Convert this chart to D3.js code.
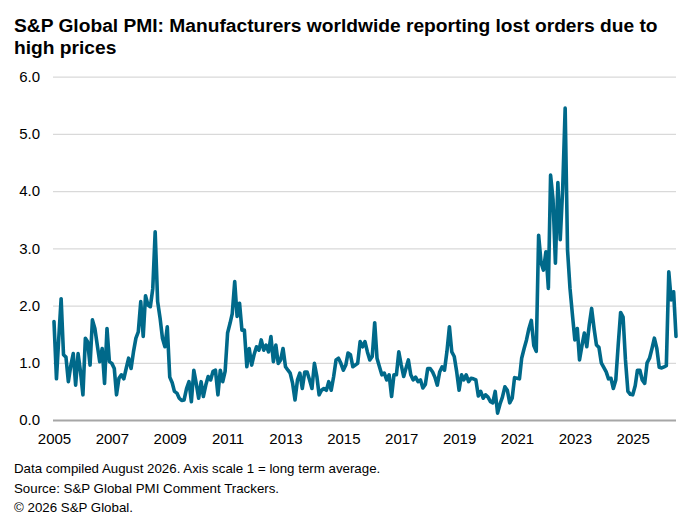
<!DOCTYPE html>
<html>
<head>
<meta charset="utf-8">
<script src="https://cdn.jsdelivr.net/npm/d3@7"></script>
<style>
  body { margin: 0; background: #fff; }
  svg text { font-family: "Liberation Sans", Arial, sans-serif; fill: #000; }
</style>
</head>
<body>
<script>
// chart size
const c_width = 700;
const c_height = 520;

// monthly readings, Jan 2005 .. Jul 2026 (1 = long term average)
const startYear = 2005;
const values = [
  // 2005
  1.72, 0.72, 1.40, 2.12, 1.14, 1.10, 0.67, 0.95, 1.16, 0.61, 1.16, 0.85,
  // 2006
  0.44, 1.43, 1.37, 0.96, 1.75, 1.60, 1.31, 1.02, 1.25, 0.64, 1.60, 1.02,
  // 2007
  0.99, 0.90, 0.44, 0.73, 0.79, 0.72, 0.90, 1.08, 0.90, 1.19, 1.43, 1.54,
  // 2008
  2.07, 1.46, 2.17, 2.01, 1.98, 2.30, 3.29, 2.07, 1.78, 1.43, 1.28, 1.63,
  // 2009
  0.75, 0.65, 0.50, 0.47, 0.38, 0.34, 0.35, 0.55, 0.67, 0.32, 0.87, 0.64,
  // 2010
  0.38, 0.67, 0.41, 0.61, 0.76, 0.70, 0.85, 0.87, 0.44, 0.87, 0.67, 0.85,
  // 2011
  1.52, 1.69, 1.86, 2.42, 1.81, 2.04, 1.57, 1.57, 0.93, 1.25, 0.96, 1.14,
  // 2012
  1.28, 1.22, 1.40, 1.22, 1.31, 1.19, 1.46, 1.02, 1.31, 0.99, 1.05, 1.25,
  // 2013
  0.93, 0.87, 0.82, 0.64, 0.35, 0.70, 0.82, 0.55, 0.84, 0.84, 0.70, 0.55,
  // 2014
  0.99, 0.76, 0.44, 0.52, 0.55, 0.52, 0.67, 0.52, 0.76, 1.05, 1.08, 0.99,
  // 2015
  0.87, 0.96, 1.17, 1.14, 0.93, 0.96, 0.99, 1.37, 1.28, 1.37, 1.19, 1.05,
  // 2016
  1.11, 1.70, 1.08, 0.93, 0.79, 0.82, 0.70, 0.79, 0.41, 0.79, 0.79, 1.19,
  // 2017
  0.96, 0.76, 0.90, 1.05, 0.79, 0.70, 0.75, 0.67, 0.70, 0.56, 0.62, 0.90,
  // 2018
  0.90, 0.84, 0.75, 0.61, 0.84, 0.93, 0.87, 1.20, 1.63, 1.19, 1.11, 0.85,
  // 2019
  0.52, 0.79, 0.70, 0.79, 0.67, 0.73, 0.72, 0.70, 0.42, 0.50, 0.38, 0.44,
  // 2020
  0.40, 0.32, 0.30, 0.50, 0.12, 0.28, 0.40, 0.58, 0.52, 0.30, 0.38, 0.74,
  // 2021
  0.73, 0.72, 1.08, 1.25, 1.40, 1.60, 1.74, 1.30, 1.20, 3.23, 2.75, 2.62,
  // 2022
  2.94, 2.30, 4.28, 3.85, 2.74, 4.15, 3.15, 4.05, 5.45, 2.97, 2.30, 1.85,
  // 2023
  1.40, 1.60, 1.05, 1.30, 1.52, 1.28, 1.65, 1.95, 1.60, 1.31, 1.27, 1.00,
  // 2024
  0.92, 0.84, 0.72, 0.73, 0.55, 0.70, 1.30, 1.88, 1.80, 1.05, 0.50, 0.45,
  // 2025
  0.44, 0.60, 0.87, 0.87, 0.70, 0.64, 1.00, 1.08, 1.25, 1.43, 1.25, 0.92,
  // 2026
  0.91, 0.93, 0.95, 2.59, 2.10, 2.24, 1.46
];

const yTicks = [0, 1, 2, 3, 4, 5, 6];
const xTickYears = [2005, 2007, 2009, 2011, 2013, 2015, 2017, 2019, 2021, 2023, 2025];

const titleLines = [
  'S&P Global PMI: Manufacturers worldwide reporting lost orders due to',
  'high prices'
];
const footLines = [
  'Data compiled August 2026. Axis scale 1 = long term average.',
  'Source: S&P Global PMI Comment Trackers.',
  '\u00A9 2026 S&P Global.'
];

// month index -> date
const data = values.map((v, i) => ({ date: new Date(startYear, i, 1), value: v }));

const plot = { left: 53, right: 676, top: 76.7, bottom: 420 };

const svgContainer = d3.select('body')
  .append('svg')
  .attr('width', c_width)
  .attr('height', c_height);

const x = d3.scaleTime()
  .domain([data[0].date, data[data.length - 1].date])
  .range([54, plot.right]);

const y = d3.scaleLinear()
  .domain([0, 6])
  .range([plot.bottom, plot.top]);

// title
svgContainer.append('g')
  .selectAll('text')
  .data(titleLines)
  .enter()
  .append('text')
  .attr('x', 14)
  .attr('y', (d, i) => 32 + i * 22)
  .style('font-size', '19.2px')
  .style('font-weight', 'bold')
  .text(d => d);

// y axis + gridlines
const yAxis = d3.axisLeft(y)
  .tickValues(yTicks)
  .tickSize(-(plot.right - plot.left))
  .tickPadding(13)
  .tickFormat(d3.format('.1f'));

const gy = svgContainer.append('g')
  .attr('transform', 'translate(' + plot.left + ',0)')
  .call(yAxis);

gy.select('.domain').remove();
gy.selectAll('.tick line')
  .attr('stroke', d => d === 0 ? '#a6a6a6' : '#d9d9d9')
  .attr('stroke-width', d => d === 0 ? 2 : 1.2);
gy.selectAll('.tick text')
  .style('font-size', '15px')
  .attr('fill', '#000');

// x axis
const xAxis = d3.axisBottom(x)
  .tickValues(xTickYears.map(yr => new Date(yr, 0, 1)))
  .tickSize(0)
  .tickPadding(13)
  .tickFormat(d3.timeFormat('%Y'));

const gx = svgContainer.append('g')
  .attr('transform', 'translate(0,' + plot.bottom + ')')
  .call(xAxis);

gx.select('.domain').remove();
gx.selectAll('.tick text')
  .style('font-size', '15px')
  .attr('fill', '#000');

// the line
const line = d3.line()
  .x(d => x(d.date))
  .y(d => y(d.value));

svgContainer.append('path')
  .datum(data)
  .attr('d', line)
  .attr('fill', 'none')
  .attr('stroke', '#00698a')
  .attr('stroke-width', 3.6)
  .attr('stroke-linejoin', 'round')
  .attr('stroke-linecap', 'round');

// footer notes
svgContainer.append('g')
  .selectAll('text')
  .data(footLines)
  .enter()
  .append('text')
  .attr('x', 14)
  .attr('y', (d, i) => 473 + i * 19.5)
  .style('font-size', '13.3px')
  .text(d => d);
</script>
</body>
</html>
